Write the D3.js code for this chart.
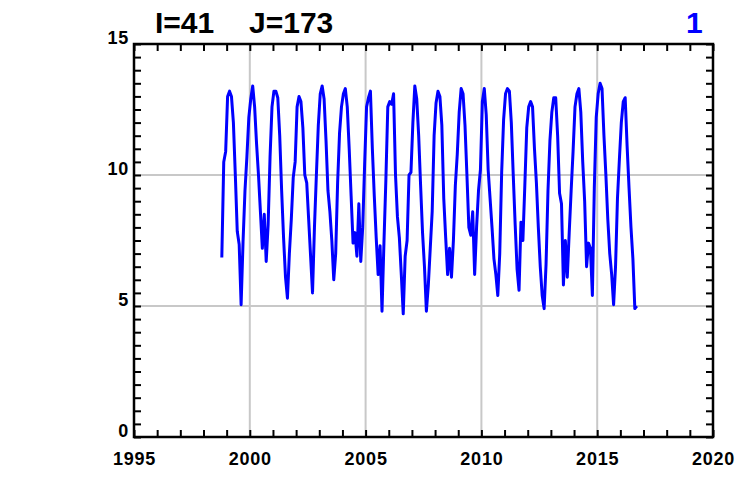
<!DOCTYPE html>
<html><head><meta charset="utf-8">
<script src="https://cdn.jsdelivr.net/npm/d3@7"></script>
<style>
html,body{margin:0;padding:0;background:#fff;}
svg{display:block;}
text{font-family:"Liberation Sans",Arial,Helvetica,sans-serif;font-weight:bold;}
</style></head>
<body>
<svg id="chart" width="743" height="477"></svg>
<script>
// ---- data ----
const titleLeft = "I=41";
const titleMid = "J=173";
const titleRight = "1";
const startYear = 1998, startMonth = 10; // first monthly value: Oct 1998
const xTickLabels = [1995, 2000, 2005, 2010, 2015, 2020];
const yTickLabels = [0, 5, 10, 15];
// monthly values, Oct..Sep per row
const values = [
  6.85,10.5,10.9,13.0,13.2,13.0,12.0,10.0,7.85,7.35,5.05,7.45,
  9.4,10.7,12.2,12.9,13.4,12.6,11.2,10.0,8.6,7.2,8.5,6.7,
  8.1,10.7,12.6,13.2,13.2,12.95,11.5,9.4,7.6,6.1,5.3,7.0,
  8.3,9.9,10.5,12.6,13.0,12.8,11.8,10.0,9.7,8.3,6.9,5.5,
  8.0,10.0,11.9,13.1,13.4,12.9,11.3,9.4,8.6,7.5,6.0,7.0,
  9.7,11.6,12.6,13.1,13.3,12.6,11.0,9.2,7.4,7.8,6.9,8.9,
  6.7,8.0,10.4,12.6,12.95,13.2,11.0,9.2,7.6,6.2,7.3,4.8,
  7.4,9.8,12.6,12.8,12.7,13.1,10.0,8.4,7.6,6.2,4.7,6.9,
  7.5,10.0,10.1,12.0,13.4,12.9,11.5,9.6,7.8,6.5,4.8,5.8,
  7.2,8.6,11.5,12.75,13.2,13.0,11.9,9.1,7.6,6.2,7.2,6.1,
  7.5,9.6,10.8,12.4,13.3,13.1,11.9,10.0,8.0,7.7,8.6,6.2,
  8.0,9.4,10.2,12.8,13.3,12.3,10.2,9.1,8.0,6.8,6.2,5.4,
  7.0,10.1,12.1,13.1,13.3,13.2,12.0,10.0,8.1,6.4,5.6,8.2,
  7.5,9.6,11.8,12.6,12.8,12.6,11.0,9.7,8.0,6.5,5.4,4.9,
  6.6,9.4,11.3,12.4,12.95,12.95,11.5,9.3,8.9,5.8,7.5,6.1,
  7.8,9.4,10.9,12.6,13.1,13.3,12.4,10.5,9.0,6.5,7.4,7.2,
  5.4,9.5,12.2,13.1,13.5,13.3,11.5,10.0,8.3,7.0,6.2,5.05,
  6.5,9.1,10.6,12.0,12.8,12.95,11.1,9.5,8.0,6.8,4.9,5.0
];

// ---- layout ----
const svg = d3.select("#chart");
const L = 134, R = 713, T = 44, B = 437;
const x = d3.scaleLinear().domain([1995, 2020]).range([L, R]);
const y = d3.scaleLinear().domain([0, 15]).range([B, T]);

const data = values.map((v, i) => ({
  t: startYear + (startMonth - 1 + i + 0.5) / 12,
  v: v
}));

// grid
const grid = svg.append("g").attr("stroke", "#c8c8c8").attr("stroke-width", 2);
grid.selectAll("line.gx").data([2000, 2005, 2010, 2015]).join("line")
  .attr("x1", d => x(d)).attr("x2", d => x(d)).attr("y1", T).attr("y2", B);
grid.selectAll("line.gy").data([5, 10]).join("line")
  .attr("x1", L).attr("x2", R).attr("y1", d => y(d)).attr("y2", d => y(d));

// axes
const yearTicks = d3.range(1995, 2021);
const yTicks = d3.range(0, 15.01, 0.5);

const ax = svg.append("g").attr("transform", `translate(0,${B})`)
  .call(d3.axisBottom(x).tickValues(yearTicks).tickSize(-7).tickSizeOuter(0).tickPadding(15)
    .tickFormat(d => xTickLabels.includes(d) ? String(d) : ""));
const axT = svg.append("g").attr("transform", `translate(0,${T})`)
  .call(d3.axisTop(x).tickValues(yearTicks).tickSize(-7).tickSizeOuter(0).tickFormat(""));
const ayL = svg.append("g").attr("transform", `translate(${L},0)`)
  .call(d3.axisLeft(y).tickValues(yTicks).tickSize(-7).tickSizeOuter(0).tickPadding(5)
    .tickFormat(d => yTickLabels.includes(d) ? String(d) : ""));
const ayR = svg.append("g").attr("transform", `translate(${R},0)`)
  .call(d3.axisRight(y).tickValues(yTicks).tickSize(-7).tickSizeOuter(0).tickFormat(""));

[ax, axT, ayL, ayR].forEach(g => {
  g.select(".domain").remove();
  g.selectAll(".tick line").attr("stroke", "#000").attr("stroke-width", 2);
  g.selectAll("text").attr("font-size", 18).attr("fill", "#000")
    .attr("font-family", "'Liberation Sans', Arial, sans-serif").attr("font-weight", "bold")
    .style("letter-spacing", "0.8px");
});
ayL.selectAll("text").attr("dy", "-0.05em");

// line
svg.append("path").datum(data)
  .attr("fill", "none").attr("stroke", "#0000ff").attr("stroke-width", 3)
  .attr("stroke-linejoin", "round")
  .attr("d", d3.line().x(d => x(d.t)).y(d => y(d.v)));

// frame
svg.append("rect").attr("x", L).attr("y", T).attr("width", R - L).attr("height", B - T)
  .attr("fill", "none").attr("stroke", "#000").attr("stroke-width", 2.5);

// titles
svg.append("text").attr("x", 155).attr("y", 33).attr("font-size", 30).attr("fill", "#000").text(titleLeft);
svg.append("text").attr("x", 249).attr("y", 33).attr("font-size", 30).attr("fill", "#000").text(titleMid);
svg.append("text").attr("x", 686).attr("y", 33).attr("font-size", 30).attr("fill", "#0000ff").text(titleRight);
</script>
</body></html>
